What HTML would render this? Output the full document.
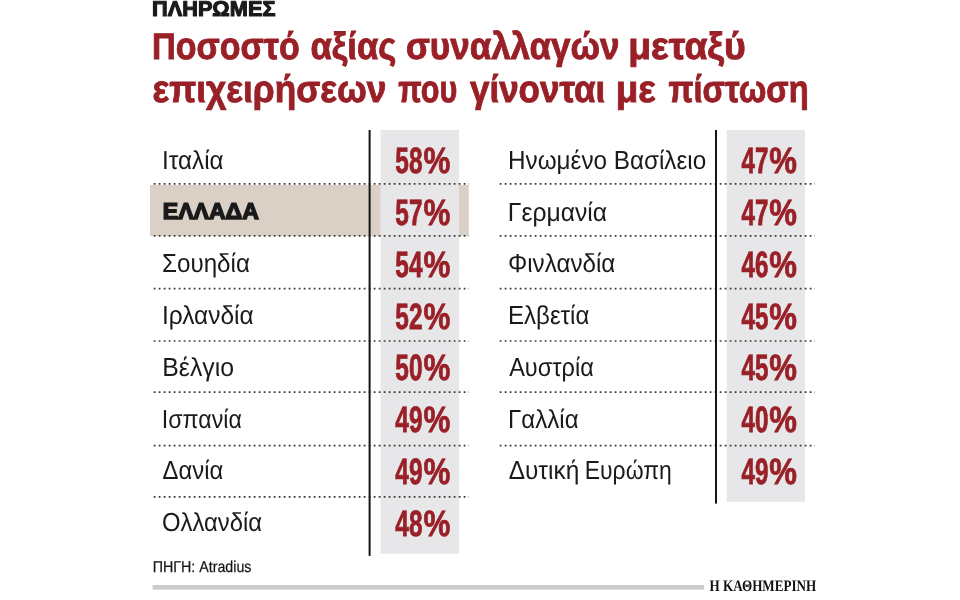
<!DOCTYPE html>
<html lang="el"><head><meta charset="utf-8"><title>Πληρωμές</title>
<style>html,body{margin:0;padding:0;background:#fff}svg{display:block;will-change:transform}</style></head>
<body><svg width="960" height="600" viewBox="0 0 960 600" text-rendering="geometricPrecision">
<rect x="0" y="0" width="960" height="600" fill="#fff"/>
<rect x="150" y="185" width="318.8" height="51" fill="#dbd0c5"/>
<rect x="380.5" y="130" width="78.5" height="423.8" fill="#e7e7e9"/>
<rect x="726.75" y="130" width="78.25" height="371.8" fill="#e7e7e9"/>
<line x1="153.7" x2="469" y1="183.8" y2="183.8" stroke="#3a3a3a" stroke-width="1.7" stroke-dasharray="1.8 3.2"/>
<line x1="499.7" x2="815" y1="183.8" y2="183.8" stroke="#3a3a3a" stroke-width="1.7" stroke-dasharray="1.8 3.2"/>
<line x1="153.7" x2="469" y1="235.85" y2="235.85" stroke="#3a3a3a" stroke-width="1.7" stroke-dasharray="1.8 3.2"/>
<line x1="499.7" x2="815" y1="235.85" y2="235.85" stroke="#3a3a3a" stroke-width="1.7" stroke-dasharray="1.8 3.2"/>
<line x1="153.7" x2="469" y1="288.6" y2="288.6" stroke="#3a3a3a" stroke-width="1.7" stroke-dasharray="1.8 3.2"/>
<line x1="499.7" x2="815" y1="288.6" y2="288.6" stroke="#3a3a3a" stroke-width="1.7" stroke-dasharray="1.8 3.2"/>
<line x1="153.7" x2="469" y1="341" y2="341" stroke="#3a3a3a" stroke-width="1.7" stroke-dasharray="1.8 3.2"/>
<line x1="499.7" x2="815" y1="341" y2="341" stroke="#3a3a3a" stroke-width="1.7" stroke-dasharray="1.8 3.2"/>
<line x1="153.7" x2="469" y1="392.1" y2="392.1" stroke="#3a3a3a" stroke-width="1.7" stroke-dasharray="1.8 3.2"/>
<line x1="499.7" x2="815" y1="392.1" y2="392.1" stroke="#3a3a3a" stroke-width="1.7" stroke-dasharray="1.8 3.2"/>
<line x1="153.7" x2="469" y1="445.6" y2="445.6" stroke="#3a3a3a" stroke-width="1.7" stroke-dasharray="1.8 3.2"/>
<line x1="499.7" x2="815" y1="445.6" y2="445.6" stroke="#3a3a3a" stroke-width="1.7" stroke-dasharray="1.8 3.2"/>
<line x1="153.7" x2="469" y1="496.9" y2="496.9" stroke="#3a3a3a" stroke-width="1.7" stroke-dasharray="1.8 3.2"/>
<rect x="368.6" y="130" width="2" height="425.9" fill="#151515"/>
<rect x="715" y="130" width="2" height="373.6" fill="#151515"/>
<rect x="152.6" y="585" width="551.5" height="4.6" fill="#cbcbcd"/>
<text x="152.00" y="15.9" font-family='"Liberation Sans", sans-serif' font-weight="700" font-size="21.4" fill="#1a1a1a" stroke="#1a1a1a" stroke-width="1.1" stroke-linejoin="round" textLength="123.44" lengthAdjust="spacingAndGlyphs">ΠΛΗΡΩΜΕΣ</text>
<text x="152.04" y="59.4" font-family='"Liberation Sans", sans-serif' font-weight="700" font-size="38" fill="#992027" stroke="#992027" stroke-width="0.9" textLength="147.62" lengthAdjust="spacingAndGlyphs"><tspan font-size="36.8">Π</tspan>οσοστό</text>
<text x="310.52" y="59.4" font-family='"Liberation Sans", sans-serif' font-weight="700" font-size="38" fill="#992027" stroke="#992027" stroke-width="0.9" textLength="85.83" lengthAdjust="spacingAndGlyphs">αξίας</text>
<text x="405.94" y="59.4" font-family='"Liberation Sans", sans-serif' font-weight="700" font-size="38" fill="#992027" stroke="#992027" stroke-width="0.9" textLength="213.59" lengthAdjust="spacingAndGlyphs">συναλλαγών</text>
<text x="628.26" y="59.4" font-family='"Liberation Sans", sans-serif' font-weight="700" font-size="38" fill="#992027" stroke="#992027" stroke-width="0.9" textLength="117.41" lengthAdjust="spacingAndGlyphs">μεταξύ</text>
<text x="152.52" y="102.1" font-family='"Liberation Sans", sans-serif' font-weight="700" font-size="38" fill="#992027" stroke="#992027" stroke-width="0.9" textLength="233.93" lengthAdjust="spacingAndGlyphs">επιχειρήσεων</text>
<text x="398.14" y="102.1" font-family='"Liberation Sans", sans-serif' font-weight="700" font-size="38" fill="#992027" stroke="#992027" stroke-width="0.9" textLength="59.06" lengthAdjust="spacingAndGlyphs">που</text>
<text x="470.00" y="102.1" font-family='"Liberation Sans", sans-serif' font-weight="700" font-size="38" fill="#992027" stroke="#992027" stroke-width="0.9" textLength="135.31" lengthAdjust="spacingAndGlyphs">γίνονται</text>
<text x="615.70" y="102.1" font-family='"Liberation Sans", sans-serif' font-weight="700" font-size="38" fill="#992027" stroke="#992027" stroke-width="0.9" textLength="40.09" lengthAdjust="spacingAndGlyphs">με</text>
<text x="668.50" y="102.1" font-family='"Liberation Sans", sans-serif' font-weight="700" font-size="38" fill="#992027" stroke="#992027" stroke-width="0.9" textLength="140.14" lengthAdjust="spacingAndGlyphs">πίστωση</text>
<text x="162.09" y="168.75" font-family='"Liberation Sans", sans-serif' font-size="26" fill="#1a1a1a" textLength="61.46" lengthAdjust="spacingAndGlyphs">Ιταλία</text>
<text x="395.34" y="173.35" font-family='"Liberation Sans", sans-serif' font-weight="700" font-size="36.6" fill="#992027" stroke="#992027" stroke-width="0.8" textLength="27.12" lengthAdjust="spacingAndGlyphs">58</text>
<text x="423.46" y="173.35" font-family='"Liberation Sans", sans-serif' font-weight="700" font-size="36.6" fill="#992027" stroke="#992027" stroke-width="0.8" textLength="26.82" lengthAdjust="spacingAndGlyphs">%</text>
<text x="162.80" y="219.3" font-family='"Liberation Sans", sans-serif' font-weight="700" font-size="22.8" fill="#1a1a1a" stroke="#1a1a1a" stroke-width="1.5" textLength="96.02" lengthAdjust="spacingAndGlyphs">ΕΛΛΑΔΑ</text>
<text x="395.34" y="225.1" font-family='"Liberation Sans", sans-serif' font-weight="700" font-size="36.6" fill="#992027" stroke="#992027" stroke-width="0.8" textLength="27.12" lengthAdjust="spacingAndGlyphs">57</text>
<text x="423.46" y="225.1" font-family='"Liberation Sans", sans-serif' font-weight="700" font-size="36.6" fill="#992027" stroke="#992027" stroke-width="0.8" textLength="26.82" lengthAdjust="spacingAndGlyphs">%</text>
<text x="161.97" y="272.25" font-family='"Liberation Sans", sans-serif' font-size="26" fill="#1a1a1a" textLength="87.98" lengthAdjust="spacingAndGlyphs">Σουηδία</text>
<text x="395.34" y="276.85" font-family='"Liberation Sans", sans-serif' font-weight="700" font-size="36.6" fill="#992027" stroke="#992027" stroke-width="0.8" textLength="27.12" lengthAdjust="spacingAndGlyphs">54</text>
<text x="423.46" y="276.85" font-family='"Liberation Sans", sans-serif' font-weight="700" font-size="36.6" fill="#992027" stroke="#992027" stroke-width="0.8" textLength="26.82" lengthAdjust="spacingAndGlyphs">%</text>
<text x="161.96" y="324.0" font-family='"Liberation Sans", sans-serif' font-size="26" fill="#1a1a1a" textLength="91.71" lengthAdjust="spacingAndGlyphs">Ιρλανδία</text>
<text x="395.34" y="328.6" font-family='"Liberation Sans", sans-serif' font-weight="700" font-size="36.6" fill="#992027" stroke="#992027" stroke-width="0.8" textLength="27.12" lengthAdjust="spacingAndGlyphs">52</text>
<text x="423.46" y="328.6" font-family='"Liberation Sans", sans-serif' font-weight="700" font-size="36.6" fill="#992027" stroke="#992027" stroke-width="0.8" textLength="26.82" lengthAdjust="spacingAndGlyphs">%</text>
<text x="162.30" y="375.75" font-family='"Liberation Sans", sans-serif' font-size="26" fill="#1a1a1a" textLength="71.79" lengthAdjust="spacingAndGlyphs">Βέλγιο</text>
<text x="395.34" y="380.35" font-family='"Liberation Sans", sans-serif' font-weight="700" font-size="36.6" fill="#992027" stroke="#992027" stroke-width="0.8" textLength="27.12" lengthAdjust="spacingAndGlyphs">50</text>
<text x="423.46" y="380.35" font-family='"Liberation Sans", sans-serif' font-weight="700" font-size="36.6" fill="#992027" stroke="#992027" stroke-width="0.8" textLength="26.82" lengthAdjust="spacingAndGlyphs">%</text>
<text x="161.85" y="427.5" font-family='"Liberation Sans", sans-serif' font-size="26" fill="#1a1a1a" textLength="80.02" lengthAdjust="spacingAndGlyphs">Ισπανία</text>
<text x="395.34" y="432.1" font-family='"Liberation Sans", sans-serif' font-weight="700" font-size="36.6" fill="#992027" stroke="#992027" stroke-width="0.8" textLength="27.12" lengthAdjust="spacingAndGlyphs">49</text>
<text x="423.46" y="432.1" font-family='"Liberation Sans", sans-serif' font-weight="700" font-size="36.6" fill="#992027" stroke="#992027" stroke-width="0.8" textLength="26.82" lengthAdjust="spacingAndGlyphs">%</text>
<text x="162.59" y="479.25" font-family='"Liberation Sans", sans-serif' font-size="26" fill="#1a1a1a" textLength="60.76" lengthAdjust="spacingAndGlyphs">Δανία</text>
<text x="395.34" y="483.85" font-family='"Liberation Sans", sans-serif' font-weight="700" font-size="36.6" fill="#992027" stroke="#992027" stroke-width="0.8" textLength="27.12" lengthAdjust="spacingAndGlyphs">49</text>
<text x="423.46" y="483.85" font-family='"Liberation Sans", sans-serif' font-weight="700" font-size="36.6" fill="#992027" stroke="#992027" stroke-width="0.8" textLength="26.82" lengthAdjust="spacingAndGlyphs">%</text>
<text x="161.97" y="531.0" font-family='"Liberation Sans", sans-serif' font-size="26" fill="#1a1a1a" textLength="100.08" lengthAdjust="spacingAndGlyphs">Ολλανδία</text>
<text x="395.34" y="535.6" font-family='"Liberation Sans", sans-serif' font-weight="700" font-size="36.6" fill="#992027" stroke="#992027" stroke-width="0.8" textLength="27.12" lengthAdjust="spacingAndGlyphs">48</text>
<text x="423.46" y="535.6" font-family='"Liberation Sans", sans-serif' font-weight="700" font-size="36.6" fill="#992027" stroke="#992027" stroke-width="0.8" textLength="26.82" lengthAdjust="spacingAndGlyphs">%</text>
<text x="508.00" y="168.75" font-family='"Liberation Sans", sans-serif' font-size="26" fill="#1a1a1a" textLength="198.18" lengthAdjust="spacingAndGlyphs">Ηνωμένο Βασίλειο</text>
<text x="741.51" y="173.35" font-family='"Liberation Sans", sans-serif' font-weight="700" font-size="36.6" fill="#992027" stroke="#992027" stroke-width="0.8" textLength="26.88" lengthAdjust="spacingAndGlyphs">47</text>
<text x="769.31" y="173.35" font-family='"Liberation Sans", sans-serif' font-weight="700" font-size="36.6" fill="#992027" stroke="#992027" stroke-width="0.8" textLength="27.68" lengthAdjust="spacingAndGlyphs">%</text>
<text x="507.87" y="220.5" font-family='"Liberation Sans", sans-serif' font-size="26" fill="#1a1a1a" textLength="99.28" lengthAdjust="spacingAndGlyphs">Γερμανία</text>
<text x="741.51" y="225.1" font-family='"Liberation Sans", sans-serif' font-weight="700" font-size="36.6" fill="#992027" stroke="#992027" stroke-width="0.8" textLength="26.88" lengthAdjust="spacingAndGlyphs">47</text>
<text x="769.31" y="225.1" font-family='"Liberation Sans", sans-serif' font-weight="700" font-size="36.6" fill="#992027" stroke="#992027" stroke-width="0.8" textLength="27.68" lengthAdjust="spacingAndGlyphs">%</text>
<text x="507.95" y="272.25" font-family='"Liberation Sans", sans-serif' font-size="26" fill="#1a1a1a" textLength="107.40" lengthAdjust="spacingAndGlyphs">Φινλανδία</text>
<text x="741.51" y="276.85" font-family='"Liberation Sans", sans-serif' font-weight="700" font-size="36.6" fill="#992027" stroke="#992027" stroke-width="0.8" textLength="26.88" lengthAdjust="spacingAndGlyphs">46</text>
<text x="769.31" y="276.85" font-family='"Liberation Sans", sans-serif' font-weight="700" font-size="36.6" fill="#992027" stroke="#992027" stroke-width="0.8" textLength="27.68" lengthAdjust="spacingAndGlyphs">%</text>
<text x="508.00" y="324.0" font-family='"Liberation Sans", sans-serif' font-size="26" fill="#1a1a1a" textLength="81.36" lengthAdjust="spacingAndGlyphs">Ελβετία</text>
<text x="741.51" y="328.6" font-family='"Liberation Sans", sans-serif' font-weight="700" font-size="36.6" fill="#992027" stroke="#992027" stroke-width="0.8" textLength="26.88" lengthAdjust="spacingAndGlyphs">45</text>
<text x="769.31" y="328.6" font-family='"Liberation Sans", sans-serif' font-weight="700" font-size="36.6" fill="#992027" stroke="#992027" stroke-width="0.8" textLength="27.68" lengthAdjust="spacingAndGlyphs">%</text>
<text x="509.16" y="375.75" font-family='"Liberation Sans", sans-serif' font-size="26" fill="#1a1a1a" textLength="84.58" lengthAdjust="spacingAndGlyphs">Αυστρία</text>
<text x="741.51" y="380.35" font-family='"Liberation Sans", sans-serif' font-weight="700" font-size="36.6" fill="#992027" stroke="#992027" stroke-width="0.8" textLength="26.88" lengthAdjust="spacingAndGlyphs">45</text>
<text x="769.31" y="380.35" font-family='"Liberation Sans", sans-serif' font-weight="700" font-size="36.6" fill="#992027" stroke="#992027" stroke-width="0.8" textLength="27.68" lengthAdjust="spacingAndGlyphs">%</text>
<text x="508.00" y="427.5" font-family='"Liberation Sans", sans-serif' font-size="26" fill="#1a1a1a" textLength="70.65" lengthAdjust="spacingAndGlyphs">Γαλλία</text>
<text x="741.51" y="432.1" font-family='"Liberation Sans", sans-serif' font-weight="700" font-size="36.6" fill="#992027" stroke="#992027" stroke-width="0.8" textLength="26.88" lengthAdjust="spacingAndGlyphs">40</text>
<text x="769.31" y="432.1" font-family='"Liberation Sans", sans-serif' font-weight="700" font-size="36.6" fill="#992027" stroke="#992027" stroke-width="0.8" textLength="27.68" lengthAdjust="spacingAndGlyphs">%</text>
<text x="508.66" y="479.25" font-family='"Liberation Sans", sans-serif' font-size="26" fill="#1a1a1a" textLength="70.62" lengthAdjust="spacingAndGlyphs">Δυτική</text>
<text x="741.51" y="483.85" font-family='"Liberation Sans", sans-serif' font-weight="700" font-size="36.6" fill="#992027" stroke="#992027" stroke-width="0.8" textLength="26.88" lengthAdjust="spacingAndGlyphs">49</text>
<text x="769.31" y="483.85" font-family='"Liberation Sans", sans-serif' font-weight="700" font-size="36.6" fill="#992027" stroke="#992027" stroke-width="0.8" textLength="27.68" lengthAdjust="spacingAndGlyphs">%</text>
<text x="584.72" y="479.25" font-family='"Liberation Sans", sans-serif' font-size="26" fill="#1a1a1a" textLength="87.11" lengthAdjust="spacingAndGlyphs">Ευρώπη</text>
<text x="152.64" y="571.5" font-family='"Liberation Sans", sans-serif' font-size="15.8" fill="#161616" stroke="#161616" stroke-width="0.25" textLength="98.84" lengthAdjust="spacingAndGlyphs">ΠΗΓΗ: Atradius</text>
<text x="709.58" y="590.5" font-family='"Liberation Serif", serif' font-weight="700" font-size="16" fill="#111" textLength="106.72" lengthAdjust="spacingAndGlyphs">Η ΚΑΘΗΜΕΡΙΝΗ</text>
</svg></body></html>
